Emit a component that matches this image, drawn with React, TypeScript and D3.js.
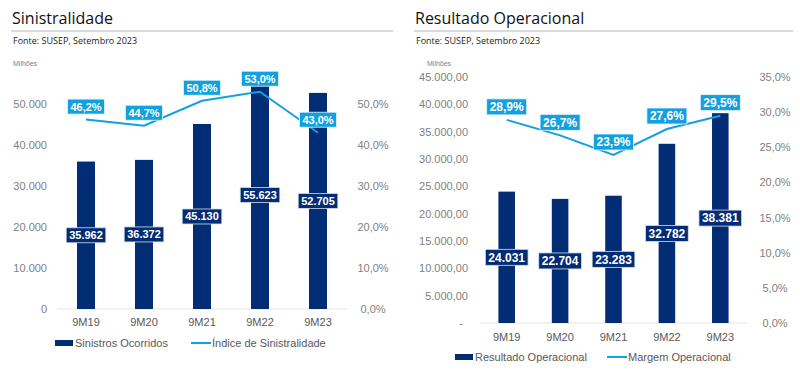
import * as d3 from "d3";

// ---- data ----
const periods = ["9M19", "9M20", "9M21", "9M22", "9M23"];
const sinistros = [35962, 36372, 45130, 55623, 52705];
const indiceSinistralidade = [46.2, 44.7, 50.8, 53.0, 43.0];
const resultadoOperacional = [24031, 22704, 23283, 32782, 38381];
const margemOperacional = [28.9, 26.7, 23.9, 27.6, 29.5];

const leftTicks = [0, 10000, 20000, 30000, 40000, 50000];
const leftPctTicks = [0, 10, 20, 30, 40, 50];
const rightTicks = [0, 5000, 10000, 15000, 20000, 25000, 30000, 35000, 40000, 45000];
const rightPctTicks = [0, 5, 10, 15, 20, 25, 30, 35];

const NAVY = "#022c73";
const CYAN = "#12a0e0";
const TICK = "#7f7f7f";
const LEG = "#595959";
const FONT = "'Liberation Sans', Arial, sans-serif";
const TITLE_FONT = "'Open Sans', 'Noto Sans', sans-serif";

const br = d3.formatLocale({ decimal: ",", thousands: ".", grouping: [3], currency: ["R$", ""] });
const fInt = br.format(",d");
const fDec = br.format(",.2f");
const fPct = (v: number) => br.format(".1f")(v) + "%";

// rough Arial bold text width
function textW(s: string, size: number) {
  let w = 0;
  for (const ch of s) {
    if (ch === "." || ch === ",") w += 0.278;
    else if (ch === "%") w += 0.889;
    else w += 0.556;
  }
  return w * size;
}

type PanelProps = {
  ox: number;
  title: string;
  ruleEnd: number;
  values: number[];
  pcts: number[];
  ticks: number[];
  pctTicks: number[];
  yMax: number;
  pMax: number;
  y0: number;
  yTop: number;
  xRange: [number, number];
  tickRight: number;
  zeroDx: number;
  pctX: number;
  tickFmt: (v: number) => string;
  fontSize: number;
  xLabelY: number;
  legendY: number;
  legendBarX: number;
  legendLineX: number;
  barName: string;
  lineName: string;
  milhoesX: number;
};

function Panel(p: PanelProps) {
  const x = d3.scaleBand<string>().domain(periods).range(p.xRange).padding(0);
  const bw = x.bandwidth() * 0.31;
  const cx = (c: string) => (x(c) as number) + x.bandwidth() / 2;
  const y = d3.scaleLinear().domain([0, p.yMax]).range([p.y0, p.yTop]);
  const yp = d3.scaleLinear().domain([0, p.pMax]).range([p.y0, p.yTop]);
  const line = d3
    .line<number>()
    .x((_, i) => cx(periods[i]))
    .y((d) => yp(d));
  const fs = p.fontSize;
  const bh = fs + 4;

  return (
    <g>
      <text x={p.ox + 12} y={24} fontFamily={TITLE_FONT} fontSize={16} fill="#111">
        {p.title}
      </text>
      <line x1={p.ox + 11} x2={p.ruleEnd} y1={31} y2={31} stroke="#cfcfcf" strokeWidth={1.5} />
      <text x={p.ox + 13} y={44} fontFamily={TITLE_FONT} fontSize={9} fill="#222">
        Fonte: SUSEP, Setembro 2023
      </text>
      <text x={p.milhoesX} y={66} fontFamily={FONT} fontSize={7} fill={TICK}>
        Milhões
      </text>

      {/* left axis */}
      {p.ticks.map((t) => (
        <text
          key={t}
          x={p.tickRight - (t === 0 ? p.zeroDx : 0)}
          y={y(t) + 4}
          textAnchor="end"
          fontFamily={FONT}
          fontSize={11}
          fill={TICK}
        >
          {p.tickFmt(t)}
        </text>
      ))}
      {/* right axis */}
      {p.pctTicks.map((t) => (
        <text key={t} x={p.pctX} y={yp(t) + 4} textAnchor="middle" fontFamily={FONT} fontSize={11} fill={TICK}>
          {fPct(t)}
        </text>
      ))}

      {/* baseline */}
      <line x1={p.xRange[0]} x2={p.xRange[1]} y1={p.y0} y2={p.y0} stroke="#e3e3e3" strokeWidth={1} />

      {/* bars */}
      {p.values.map((v, i) => (
        <rect key={i} x={cx(periods[i]) - bw / 2} y={y(v)} width={bw} height={p.y0 - y(v)} fill={NAVY} />
      ))}

      {/* x labels */}
      {periods.map((c) => (
        <text key={c} x={cx(c)} y={p.xLabelY} textAnchor="middle" fontFamily={FONT} fontSize={11} fill={LEG}>
          {c}
        </text>
      ))}

      {/* line */}
      <path d={line(p.pcts) || ""} fill="none" stroke={CYAN} strokeWidth={2} />

      {/* bar labels */}
      {p.values.map((v, i) => {
        const s = fInt(v);
        const w = textW(s, fs) + 6;
        const my = (y(v) + p.y0) / 2;
        const c = cx(periods[i]);
        return (
          <g key={i}>
            <rect x={c - w / 2} y={my - bh / 2} width={w} height={bh} fill={NAVY} stroke="#d9dde8" strokeWidth={0.8} />
            <text x={c} y={my + fs * 0.36} textAnchor="middle" fontFamily={FONT} fontWeight="bold" fontSize={fs} fill="#fff">
              {s}
            </text>
          </g>
        );
      })}

      {/* pct labels */}
      {p.pcts.map((v, i) => {
        const s = fPct(v);
        const w = textW(s, fs) + 6;
        const my = yp(v) - 13;
        const c = cx(periods[i]);
        return (
          <g key={i}>
            <rect x={c - w / 2} y={my - bh / 2} width={w} height={bh} fill={CYAN} stroke="#e8f6fd" strokeWidth={0.8} />
            <text x={c} y={my + fs * 0.36} textAnchor="middle" fontFamily={FONT} fontWeight="bold" fontSize={fs} fill="#fff">
              {s}
            </text>
          </g>
        );
      })}

      {/* legend */}
      <rect x={p.legendBarX} y={p.legendY - 3} width={18} height={6} fill={NAVY} />
      <text x={p.legendBarX + 20} y={p.legendY + 4} fontFamily={FONT} fontSize={11} fill={LEG}>
        {p.barName}
      </text>
      <line x1={p.legendLineX} x2={p.legendLineX + 20} y1={p.legendY} y2={p.legendY} stroke={CYAN} strokeWidth={2} />
      <text x={p.legendLineX + 21} y={p.legendY + 4} fontFamily={FONT} fontSize={11} fill={LEG}>
        {p.lineName}
      </text>
    </g>
  );
}

export default function App() {
  return (
    <svg
      width={800}
      height={373}
      style={{ position: "absolute", left: 0, top: 0, background: "#fff" }}
    >
      <Panel
        ox={0}
        title="Sinistralidade"
        ruleEnd={393}
        values={sinistros}
        pcts={indiceSinistralidade}
        ticks={leftTicks}
        pctTicks={leftPctTicks}
        yMax={60000}
        pMax={60}
        y0={309}
        yTop={63}
        xRange={[57, 347]}
        tickRight={47}
        zeroDx={0}
        pctX={373}
        tickFmt={(v) => fInt(v)}
        fontSize={11}
        xLabelY={326}
        legendY={343}
        legendBarX={55}
        legendLineX={191}
        barName="Sinistros Ocorridos"
        lineName="Índice de Sinistralidade"
        milhoesX={13}
      />
      <Panel
        ox={403}
        title="Resultado Operacional"
        ruleEnd={793}
        values={resultadoOperacional}
        pcts={margemOperacional}
        ticks={rightTicks}
        pctTicks={rightPctTicks}
        yMax={45000}
        pMax={35}
        y0={323}
        yTop={77}
        xRange={[480, 747]}
        tickRight={468}
        zeroDx={5}
        pctX={775}
        tickFmt={(v) => (v === 0 ? "-" : fDec(v))}
        fontSize={12}
        xLabelY={341}
        legendY={357}
        legendBarX={455}
        legendLineX={607}
        barName="Resultado Operacional"
        lineName="Margem Operacional"
        milhoesX={427}
      />
    </svg>
  );
}
